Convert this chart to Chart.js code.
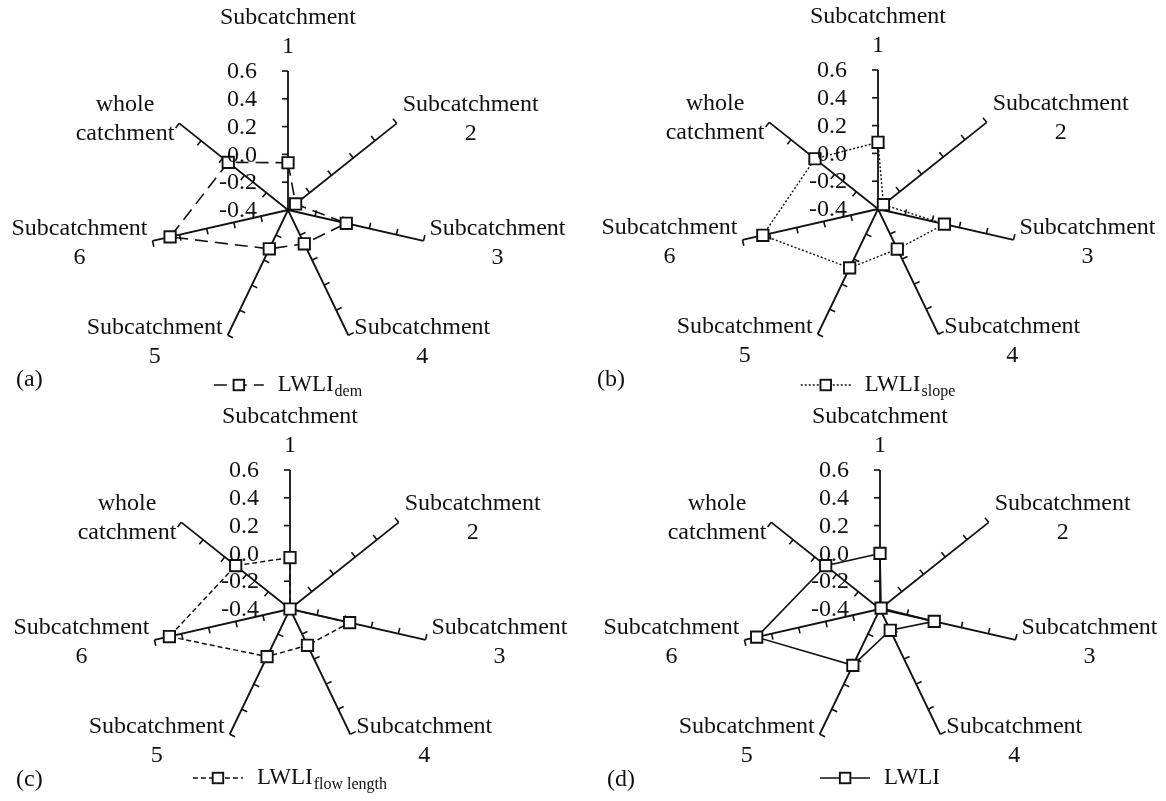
<!DOCTYPE html>
<html lang="en">
<head>
<meta charset="UTF-8"/>
<title>LWLI radar charts</title>
<script src="https://cdn.jsdelivr.net/npm/chart.js@4.4.1/dist/chart.umd.min.js"></script>
<style>
  html, body { margin: 0; padding: 0; background: #fff; }
  #wrap { position: relative; width: 1166px; height: 801px; overflow: hidden; }
  #wrap canvas { position: absolute; }
</style>
</head>
<body>
<div id="wrap">
  <canvas id="chartA" width="583" height="400" style="left:0;top:0"></canvas>
  <canvas id="chartB" width="583" height="400" style="left:583px;top:0"></canvas>
  <canvas id="chartC" width="583" height="401" style="left:0;top:400px"></canvas>
  <canvas id="chartD" width="583" height="401" style="left:583px;top:400px"></canvas>
</div>
<script>
  // axis names (two lines each)
  const axisLabels = [
    ['Subcatchment', '1'],
    ['Subcatchment', '2'],
    ['Subcatchment', '3'],
    ['Subcatchment', '4'],
    ['Subcatchment', '5'],
    ['Subcatchment', '6'],
    ['whole', 'catchment']
  ];
  const scaleMin = -0.4;
  const scaleMax = 0.6;
  const scaleStep = 0.2;

  // values
  const lwliDem = [-0.06, -0.33, 0.03, -0.13, -0.09, 0.47, 0.15];
  const lwliSlope = [0.08, -0.35, 0.09, -0.08, 0.07, 0.45, 0.18];
  const lwliFlowLength = [-0.03, -0.40, 0.04, -0.11, -0.02, 0.49, 0.10];
  const lwli = [0.00, -0.39, 0.00, -0.23, 0.05, 0.51, 0.10];

  const FONT = '"Liberation Serif", "Times New Roman", serif';
  const INK = '#111';
  const R = 139;

  const panels = [
    { id: 'chartA', letter: '(a)', data: lwliDem, name: 'LWLI', sub: 'dem',
      dash: [13, 7], lw: 1.6, cx: 288, cy: 210, letterX: 16, letterY: 380, legendY: 385 },
    { id: 'chartB', letter: '(b)', data: lwliSlope, name: 'LWLI', sub: 'slope',
      dash: [2, 2], lw: 1.4, cx: 295, cy: 209, letterX: 14, letterY: 380, legendY: 385 },
    { id: 'chartC', letter: '(c)', data: lwliFlowLength, name: 'LWLI', sub: 'flow length',
      dash: [5, 3], lw: 1.5, cx: 290, cy: 209, letterX: 16, letterY: 380, legendY: 378 },
    { id: 'chartD', letter: '(d)', data: lwli, name: 'LWLI', sub: '',
      dash: [], lw: 1.6, cx: 297, cy: 209, letterX: 24, letterY: 380, legendY: 378 }
  ];

  function drawSquare(ctx, x, y, s) {
    ctx.save();
    ctx.setLineDash([]);
    ctx.fillStyle = '#fff';
    ctx.strokeStyle = INK;
    ctx.lineWidth = 1.9;
    ctx.fillRect(x - s / 2, y - s / 2, s, s);
    ctx.strokeRect(x - s / 2, y - s / 2, s, s);
    ctx.restore();
  }

  function makeDecor(p) {
    return {
      id: 'decor' + p.id,
      beforeDatasetsDraw(chart) {
        const r = chart.scales.r;
        const ctx = chart.ctx;
        const n = chart.data.labels.length;
        ctx.save();
        ctx.strokeStyle = INK;
        ctx.lineWidth = 1.6;
        for (let i = 0; i < n; i++) {
          const o = r.getPointPositionForValue(i, r.min);
          const e = r.getPointPositionForValue(i, r.max);
          const len = Math.hypot(e.x - o.x, e.y - o.y);
          const ux = (e.x - o.x) / len, uy = (e.y - o.y) / len;
          const lx = uy, ly = -ux;
          r.ticks.forEach(t => {
            if (t.value <= r.min + 1e-9) return;
            const q = r.getPointPositionForValue(i, t.value);
            ctx.beginPath();
            ctx.moveTo(q.x, q.y);
            ctx.lineTo(q.x + lx * 6, q.y + ly * 6);
            ctx.stroke();
          });
        }
        ctx.restore();
      },
      afterDraw(chart) {
        const r = chart.scales.r;
        const ctx = chart.ctx;
        const labels = chart.data.labels;
        const n = labels.length;
        ctx.save();
        ctx.fillStyle = INK;
        ctx.font = '24px ' + FONT;

        // radial tick labels along the first axis
        ctx.textAlign = 'right';
        ctx.textBaseline = 'middle';
        r.ticks.forEach(t => {
          const q = r.getPointPositionForValue(0, t.value);
          ctx.fillText(t.value.toFixed(1), q.x - 31, q.y + 1);
        });

        // axis names
        const lineH = 29;
        ctx.textAlign = 'center';
        for (let i = 0; i < n; i++) {
          const lines = labels[i];
          const e = r.getPointPositionForValue(i, r.max);
          const ang = (2 * Math.PI * i) / n;
          const s = Math.sin(ang), c = Math.cos(ang);
          const w = Math.max(...lines.map(l => ctx.measureText(l).width));
          let mx;
          if (Math.abs(s) < 0.1) mx = e.x;
          else if (s > 0) mx = e.x + 6 + w / 2;
          else mx = e.x - 5 - w / 2;
          let y0;
          if (c > 0.9) y0 = e.y - 10 - (lines.length - 0.5) * lineH;
          else y0 = e.y - 14 - 7 * c;
          lines.forEach((l, k) => ctx.fillText(l, mx, y0 + k * lineH));
        }

        // panel letter
        ctx.textAlign = 'left';
        ctx.fillText(p.letter, p.letterX, p.letterY);

        // legend
        const sampleLen = 50, gap = 14;
        ctx.font = '23px ' + FONT;
        const wMain = ctx.measureText(p.name).width;
        ctx.font = '16px ' + FONT;
        const wSub = p.sub ? ctx.measureText(p.sub).width + 1 : 0;
        const total = sampleLen + gap + wMain + wSub;
        const x0 = r.xCenter - total / 2;
        const ly = p.legendY;
        ctx.strokeStyle = INK;
        ctx.lineWidth = p.lw;
        ctx.setLineDash(p.dash);
        ctx.beginPath();
        ctx.moveTo(x0, ly);
        ctx.lineTo(x0 + sampleLen, ly);
        ctx.stroke();
        ctx.setLineDash([]);
        drawSquare(ctx, x0 + sampleLen / 2, ly, 10.5);
        ctx.font = '23px ' + FONT;
        ctx.textBaseline = 'middle';
        ctx.fillText(p.name, x0 + sampleLen + gap, ly);
        if (p.sub) {
          ctx.font = '16px ' + FONT;
          ctx.fillText(p.sub, x0 + sampleLen + gap + wMain + 1, ly + 7);
        }
        ctx.restore();
      }
    };
  }

  panels.forEach(p => {
    const canvas = document.getElementById(p.id);
    const W = canvas.width, H = canvas.height;
    new Chart(canvas.getContext('2d'), {
      type: 'radar',
      data: {
        labels: axisLabels,
        datasets: [{
          label: p.name + p.sub,
          data: p.data,
          borderColor: INK,
          borderWidth: p.lw,
          borderDash: p.dash,
          fill: false,
          tension: 0,
          clip: false,
          pointStyle: 'rect',
          pointRadius: 8,
          pointBorderWidth: 1.9,
          pointBackgroundColor: '#fff',
          pointBorderColor: INK
        }]
      },
      options: {
        responsive: false,
        animation: false,
        events: [],
        layout: {
          padding: {
            left: p.cx - R,
            right: W - p.cx - R,
            top: p.cy - R,
            bottom: H - p.cy - R
          }
        },
        plugins: {
          legend: { display: false },
          tooltip: { enabled: false },
          title: { display: false }
        },
        scales: {
          r: {
            min: scaleMin,
            max: scaleMax,
            ticks: { display: false, stepSize: scaleStep },
            grid: { display: false },
            angleLines: { display: true, color: INK, lineWidth: 1.8 },
            pointLabels: { display: false }
          }
        }
      },
      plugins: [makeDecor(p)]
    });
  });
</script>
</body>
</html>
